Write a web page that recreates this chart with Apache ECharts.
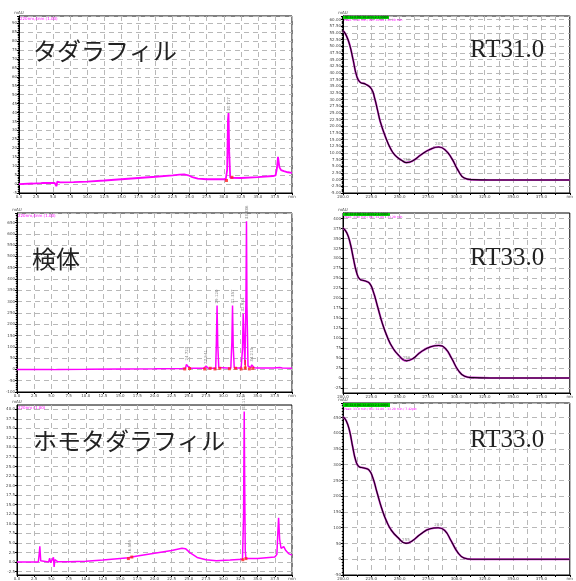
<!DOCTYPE html>
<html><head><meta charset="utf-8">
<script src="https://cdn.jsdelivr.net/npm/echarts@6/dist/echarts.min.js"></script>
<style>html,body{margin:0;padding:0;background:#fff}#c{width:576px;height:581px}</style>
</head><body><div id="c"></div><script>
// ---------- Chromatogram 1: タダラフィル ----------
const p1Time = [0, 2, 3.2, 3.35, 3.5, 3.7, 5.2, 5.4, 5.5, 5.6, 5.75, 6, 8, 10, 12.5, 15, 17.5, 20, 22.5, 23.5, 24.2, 24.8, 25.4, 26.2, 27.5, 30.3, 30.5, 30.62, 30.7, 30.8, 30.95, 31.2, 32.5, 35, 37.2, 37.6, 37.8, 37.95, 38.15, 38.4, 38.8, 39.4, 40];
const p1Abs  = [0, 0.3, 0.5, 1.4, 0.6, 0.6, 0.7, 1.6, -1.2, 1.3, 0.8, 0.9, 1.1, 1.4, 2.0, 2.7, 3.4, 4.1, 4.9, 5.3, 5.4, 4.9, 3.9, 3.0, 2.7, 2.7, 8, 36, 39.7, 18, 3.5, 3.1, 3.4, 3.9, 4.5, 4.9, 9, 15.2, 9.5, 7.8, 7.2, 6.6, 6.3];
const p1PeakTime = [30.7];
const p1PeakAbs  = [39.7];
const p1PeakText = ['30.717'];
const p1MarkTime = [30.4, 31.2];
const p1MarkAbs  = [2.0, 3.8];

// ---------- Chromatogram 2: 検体 ----------
const p2Time = [0, 2.5, 5, 5.5, 6, 10, 15, 20, 24, 24.5, 24.65, 24.75, 24.9, 25.2, 27.2, 27.4, 27.5, 27.6, 27.8, 28.9, 29.0, 29.1, 29.2, 29.35, 29.6, 31.1, 31.25, 31.35, 31.45, 31.6, 32.6, 32.8, 32.9, 33.0, 33.15, 33.3, 33.38, 33.45, 33.6, 34.0, 34.15, 34.22, 34.3, 34.5, 35, 36, 37, 37.2, 37.4, 37.8, 38.0, 38.2, 38.6, 40];
const p2Abs  = [0, 0, -0.5, -1, 0, 0.5, 1.5, 3, 4.5, 5, 22, 30, 12, 5, 5, 9, 15, 9, 5, 5, 120, 283, 110, 8, 5, 5, 120, 283, 100, 6, 6, 90, 247, 150, 20, 300, 655, 280, 15, 8, 20, 25, 15, 7, 6, 6, 6, 8, 6, 7, 12, 8, 6, 5];
const p2PeakTime = [24.75, 27.5, 29.1, 31.35, 32.9, 33.38, 34.22];
const p2PeakAbs  = [30, 15, 283, 283, 247, 655, 25];
const p2PeakText = ['24.723', '27.541', '29.120', '31.357', '32.934', '33.386', '34.215'];
const p2MarkTime = [24.4, 25.1, 27.3, 28.1, 28.8, 29.5, 30.9, 31.8, 32.6, 33.2, 33.8, 34.3];
const p2MarkAbs  = [2, 4, 2, 5, 2, 5, 3, 5, 2, 6, 2, 5];
const p2BarTime = [33.2, 33.2];
const p2BarAbs  = [0, 42];

// ---------- Chromatogram 3: ホモタダラフィル ----------
const p3Time = [0, 2, 3.1, 3.25, 3.32, 3.45, 3.7, 4.6, 4.75, 4.9, 5.1, 5.3, 5.4, 5.5, 5.65, 5.9, 7.5, 10, 12.5, 15, 16.2, 16.45, 16.7, 17.5, 20, 22.5, 24, 24.5, 25.2, 26.2, 27.5, 29, 31, 32.8, 32.95, 33.05, 33.12, 33.2, 33.3, 33.5, 35, 37.5, 37.8, 37.95, 38.05, 38.2, 38.4, 38.6, 38.8, 39.1, 39.5, 40];
const p3Abs  = [0, 0, 0, 2.5, 4.1, 0.3, 0, 0, 1.0, -0.2, 0.2, 1.2, -1.3, 0.6, 0.1, 0.1, 0.1, 0.2, 0.5, 0.9, 1.1, 1.6, 1.3, 1.6, 2.3, 3.0, 3.6, 3.5, 2.4, 1.2, 0.6, 0.3, 0.5, 0.7, 12, 39.4, 20, 3, 0.9, 0.8, 0.9, 1.3, 2, 8, 11.6, 6, 3.6, 3.4, 4.0, 3.0, 2.2, 1.8];
const p3PeakTime = [16.45, 33.05];
const p3PeakAbs  = [1.6, 39.4];
const p3PeakText = ['16.505', '33.117'];
const p3MarkTime = [16.2, 16.7, 32.85, 33.3];
const p3MarkAbs  = [0.9, 1.3, 0.6, 0.9];
const p3YTicks = [-2.5, 0, 2.5, 5, 7.5, 10, 12.5, 15, 17.5, 20, 22.5, 25, 27.5, 30, 32.5, 35, 37.5, 40];

// ---------- UV spectra ----------
const s1Nm  = [200, 203, 206, 209, 212, 215, 220, 225, 228, 230.5, 233, 237.5, 242, 246, 252, 256, 262, 269, 277, 284.5, 290, 296, 301.5, 307, 314, 330, 360, 400];
const s1Abs = [56, 54, 50.4, 44.8, 39, 36.6, 35.8, 34.1, 30.4, 26, 21.6, 16, 11.6, 9.1, 7.2, 6.4, 7.2, 9.4, 11.4, 12.25, 11.2, 7.9, 3.5, 0.6, 0, -0.1, -0.1, -0.1];
const s1MarkNm = [256, 284.5];
const s1MarkAbs = [6.4, 12.25];
const s1MarkText = ['256', '284'];

const s2Nm  = [200, 203.4, 206.3, 209.1, 212, 214.8, 219, 223.3, 226.7, 230.5, 234.7, 239, 243.3, 249, 256, 261.7, 268.8, 277.4, 284.5, 290.2, 295.9, 301.6, 307.3, 314.4, 330, 360, 400];
const s2Abs = [376.5, 364, 338.7, 300.8, 264.7, 247.9, 243.7, 237.8, 216.8, 179, 137, 103.4, 78.2, 57.1, 42.9, 48.7, 65.5, 78.2, 81.5, 74, 48.7, 19.3, 4.2, 0.8, 0, 0, 0];
const s2MarkNm = [256, 284.5];
const s2MarkAbs = [42.9, 81.5];
const s2MarkText = ['256', '284'];
const s2YTicks = [-25, 0, 25, 50, 75, 100, 125, 150, 175, 200, 225, 250, 275, 300, 325, 350, 375, 400];

const s3Nm  = [200, 202.8, 205.7, 208.5, 211.4, 214.2, 218.5, 222.8, 226.2, 229.9, 234.1, 238.4, 242.7, 248.4, 255.5, 261.2, 268.3, 276.8, 283.9, 289.6, 295.3, 301, 306.7, 313.8, 330, 360, 400];
const s3Abs = [452.6, 440, 409, 357.7, 311.3, 293.8, 289.7, 283.5, 259.8, 213.4, 161.9, 120.6, 91.8, 69, 50.5, 58.8, 79.4, 96.9, 100, 91.8, 58.8, 22.7, 4.1, 0, 0, 0, 0];
const s3MarkNm = [255.5, 283.9];
const s3MarkAbs = [50.5, 100];
const s3MarkText = ['255', '284'];

// ---------- helpers ----------
const pairs = (xs, ys) => xs.map((x, i) => [x, ys[i]]);
const isMult = (v, s) => Math.abs(v / s - Math.round(v / s)) < 1e-6;
const TICKFONT = 'DejaVu Sans';
const gridLine = { show: true, lineStyle: { color: '#b8b8b8', type: [5, 4], width: 1 } };

function mkX(gi, min, max, interval, fmt) {
  return {
    type: 'value', gridIndex: gi, min, max, interval,
    axisLine: { show: true, onZero: false, lineStyle: { color: '#000', width: 1 } },
    axisTick: { show: true, length: 2, lineStyle: { color: '#000' } },
    minorTick: { show: true, splitNumber: 5, length: 1, lineStyle: { color: '#000' } },
    axisLabel: { fontSize: 4, margin: 2, color: '#444', fontFamily: TICKFONT, formatter: fmt },
    splitLine: gridLine
  };
}
function mkY(gi, min, max, interval, fmt, custom) {
  const ax = {
    type: 'value', gridIndex: gi, min, max,
    name: 'mAU', nameLocation: 'end', nameGap: 1,
    nameTextStyle: { fontSize: 4, color: '#444', fontFamily: TICKFONT },
    axisLine: { show: true, onZero: false, lineStyle: { color: '#000', width: 1 } },
    axisTick: { show: true, length: 2, lineStyle: { color: '#000' } },
    minorTick: { show: !custom, splitNumber: 5, length: 1.2, lineStyle: { color: '#000' } },
    axisLabel: { fontSize: 4, margin: 2, color: '#444', fontFamily: TICKFONT, formatter: fmt },
    splitLine: gridLine
  };
  if (custom) {
    ax.axisTick.customValues = custom;
    ax.axisLabel.customValues = custom;
  } else {
    ax.interval = interval;
  }
  return ax;
}
const fmtTime = v => (v >= 39.99 ? 'min' : (isMult(v, 2.5) ? v.toFixed(1) : ''));
const fmtNm = v => (v >= 399.9 ? 'nm' : (isMult(v, 25) ? v.toFixed(1) : ''));

function chromSeries(gi, xs, ys, width) {
  return { type: 'line', xAxisIndex: gi, yAxisIndex: gi, data: pairs(xs, ys), symbol: 'none',
    lineStyle: { color: '#ff00ff', width: width }, z: 3, animation: false };
}
function markSeries(gi, xs, ys) {
  return { type: 'scatter', xAxisIndex: gi, yAxisIndex: gi, data: pairs(xs, ys), symbol: 'rect',
    symbolSize: 3, itemStyle: { color: '#ff2020' }, z: 4, animation: false, silent: true };
}
function labelSeries(gi, xs, ys, texts) {
  return { type: 'scatter', xAxisIndex: gi, yAxisIndex: gi, data: pairs(xs, ys), symbolSize: 0,
    label: { show: true, position: 'top', distance: 2, rotate: 90, align: 'left', verticalAlign: 'middle',
      fontSize: 4, color: '#666', fontFamily: TICKFONT, formatter: p => texts[p.dataIndex] },
    z: 5, animation: false, silent: true };
}
function specSeries(gi, xs, ys) {
  return [
    { type: 'line', xAxisIndex: gi, yAxisIndex: gi, data: pairs(xs, ys), symbol: 'none', smooth: 0.5,
      lineStyle: { color: '#d030d0', width: 2.0 }, z: 3, animation: false },
    { type: 'line', xAxisIndex: gi, yAxisIndex: gi, data: pairs(xs, ys), symbol: 'none', smooth: 0.5,
      lineStyle: { color: '#1a0018', width: 1.1 }, z: 4, animation: false }
  ];
}
function specLabel(gi, xs, ys, texts) {
  return { type: 'scatter', xAxisIndex: gi, yAxisIndex: gi, data: pairs(xs, ys), symbolSize: 0,
    label: { show: true, position: 'top', distance: 1, fontSize: 4, color: '#777', fontFamily: TICKFONT,
      formatter: p => texts[p.dataIndex] }, z: 5, animation: false, silent: true };
}

const gridBase = { show: true, borderColor: '#000', borderWidth: 1, containLabel: false };
const option = {
  animation: false,
  backgroundColor: '#fff',
  grid: [
    Object.assign({ left: 19, top: 16, width: 273, height: 177 }, gridBase),
    Object.assign({ left: 17, top: 213, width: 275, height: 179 }, gridBase),
    Object.assign({ left: 17, top: 405, width: 275, height: 173 }, gridBase),
    Object.assign({ left: 343, top: 16, width: 234, height: 177 }, gridBase),
    Object.assign({ left: 343, top: 213, width: 234, height: 180 }, gridBase),
    Object.assign({ left: 343, top: 403, width: 234, height: 177 }, gridBase)
  ],
  xAxis: [
    mkX(0, 0, 40, 2.5, fmtTime),
    mkX(1, 0, 40, 2.5, fmtTime),
    mkX(2, 0, 40, 2.5, fmtTime),
    mkX(3, 200, 400, 12.5, fmtNm),
    mkX(4, 200, 400, 12.5, fmtNm),
    mkX(5, 200, 400, 12.5, fmtNm)
  ],
  yAxis: [
    mkY(0, -5, 94, 5, v => (isMult(v, 5) ? String(Math.round(v)) : '')),
    mkY(1, -100, 692, 50, v => (isMult(v, 50) ? String(Math.round(v)) : '')),
    mkY(2, -3.4, 41.1, null, v => v.toFixed(1), p3YTicks),
    mkY(3, -5, 61.4, 2.5, v => (isMult(v, 2.5) ? v.toFixed(2) : '')),
    mkY(4, -37.8, 414, null, v => String(Math.round(v)), s2YTicks),
    mkY(5, -50, 496, 50, v => (isMult(v, 50) ? String(Math.round(v)) : ''))
  ],
  series: [
    chromSeries(0, p1Time, p1Abs, 1.8),
    markSeries(0, p1MarkTime, p1MarkAbs),
    labelSeries(0, p1PeakTime, p1PeakAbs, p1PeakText),
    chromSeries(1, p2Time, p2Abs, 1.5),
    { type: 'line', xAxisIndex: 1, yAxisIndex: 1, data: pairs(p2BarTime, p2BarAbs), symbol: 'none',
      lineStyle: { color: '#ff2020', width: 1.2 }, z: 4, animation: false },
    markSeries(1, p2MarkTime, p2MarkAbs),
    labelSeries(1, p2PeakTime, p2PeakAbs, p2PeakText),
    chromSeries(2, p3Time, p3Abs, 1.5),
    markSeries(2, p3MarkTime, p3MarkAbs),
    labelSeries(2, p3PeakTime, p3PeakAbs, p3PeakText),
    ...specSeries(3, s1Nm, s1Abs),
    specLabel(3, s1MarkNm, s1MarkAbs, s1MarkText),
    ...specSeries(4, s2Nm, s2Abs),
    specLabel(4, s2MarkNm, s2MarkAbs, s2MarkText),
    ...specSeries(5, s3Nm, s3Abs),
    specLabel(5, s3MarkNm, s3MarkAbs, s3MarkText)
  ],
  graphic: [
    { type: 'text', left: 33, top: 39, z: 10, style: { text: 'タダラフィル', font: '24px "Noto Sans CJK JP"', fill: '#222' } },
    { type: 'text', left: 32, top: 247, z: 10, style: { text: '検体', font: '24px "Noto Sans CJK JP"', fill: '#222' } },
    { type: 'text', left: 33, top: 429, z: 10, style: { text: 'ホモタダラフィル', font: '24px "Noto Sans CJK JP"', fill: '#222' } },
    { type: 'text', left: 470, top: 38, z: 10, style: { text: 'RT31.0', font: '25px "Liberation Serif"', fill: '#222' } },
    { type: 'text', left: 470, top: 246, z: 10, style: { text: 'RT33.0', font: '25px "Liberation Serif"', fill: '#222' } },
    { type: 'text', left: 470, top: 428, z: 10, style: { text: 'RT33.0', font: '25px "Liberation Serif"', fill: '#222' } },
    { type: 'text', left: 20, top: 17, z: 10, style: { text: '220nm,4nm (1.00)', font: '4px "DejaVu Sans"', fill: '#ff00ff' } },
    { type: 'text', left: 18, top: 214, z: 10, style: { text: '220nm,4nm (1.00)', font: '4px "DejaVu Sans"', fill: '#ff00ff' } },
    { type: 'text', left: 18, top: 406, z: 10, style: { text: '220nm (1.00)', font: '4px "DejaVu Sans"', fill: '#ff00ff' } },
    { type: 'rect', z: 10, shape: { x: 343, y: 16, width: 46, height: 3 }, style: { fill: '#00d000' } },
    { type: 'text', left: 345, top: 16, z: 11, style: { text: 'RT:31.0 BG:30.8/31.2 1.0000', font: '3px "DejaVu Sans"', fill: '#003300' } },
    { type: 'text', left: 344, top: 19, z: 10, style: { text: 'Peak: 31.0 min / BG: 30.80 - 31.20 min', font: '3px "DejaVu Sans"', fill: '#ff00ff' } },
    { type: 'rect', z: 10, shape: { x: 343, y: 213, width: 47, height: 3 }, style: { fill: '#00d000' } },
    { type: 'text', left: 345, top: 213, z: 11, style: { text: 'RT:33.0 BG:32.8/33.2 1.0000', font: '3px "DejaVu Sans"', fill: '#003300' } },
    { type: 'text', left: 344, top: 216, z: 10, style: { text: 'Peak: 33.0 min / BG: 32.80 - 33.20 min', font: '3px "DejaVu Sans"', fill: '#ff00ff' } },
    { type: 'rect', z: 10, shape: { x: 343, y: 403, width: 47, height: 4 }, style: { fill: '#00d000' } },
    { type: 'text', left: 345, top: 403.5, z: 11, style: { text: 'RT:33.0 BG:32.8/33.2 1.0000', font: '3px "DejaVu Sans"', fill: '#003300' } },
    { type: 'text', left: 344, top: 408, z: 10, style: { text: 'Peak: 33.0 min / BG: 32.80 - 33.20 min / 7.42pkt', font: '3px "DejaVu Sans"', fill: '#ff00ff' } }
  ]
};
const chart = echarts.init(document.getElementById('c'), null, { renderer: 'canvas' });
chart.setOption(option);
</script></body></html>
